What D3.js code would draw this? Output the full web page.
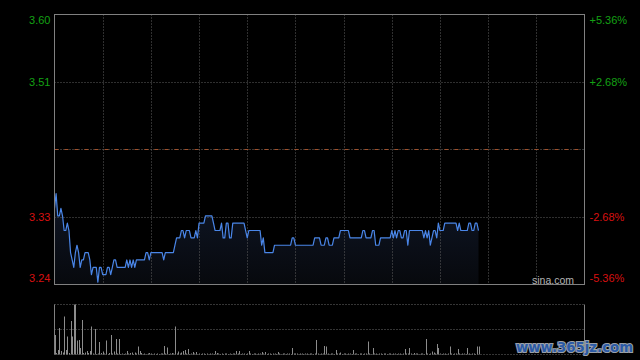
<!DOCTYPE html>
<html><head><meta charset="utf-8">
<script src="https://cdn.jsdelivr.net/npm/d3@7/dist/d3.min.js"></script>
<style>html,body{margin:0;padding:0;background:#000;}svg{display:block}</style>
</head><body>
<svg id="c" width="640" height="360"></svg>
<script>
// ---- data ----
const prevClose = 3.42;
const pctLevels = [0.0536, 0.0268, -0.0268, -0.0536];
const priceLabels = ["3.60", "3.51", "3.33", "3.24"];
const pctLabels = ["+5.36%", "+2.68%", "-2.68%", "-5.36%"];
const sessionMinutes = 330;
const gridStepMinutes = 30;
const prices = [
3.34,3.36,3.33,3.33,3.34,3.33,3.31,3.31,3.32,3.31,
3.28,3.27,3.26,3.28,3.29,3.28,3.26,3.27,3.27,3.28,
3.28,3.28,3.27,3.25,3.26,3.26,3.26,3.24,3.26,3.26,
3.25,3.25,3.25,3.26,3.26,3.25,3.26,3.27,3.27,3.26,
3.26,3.26,3.26,3.26,3.26,3.27,3.26,3.27,3.26,3.27,
3.26,3.27,3.27,3.27,3.27,3.27,3.27,3.28,3.28,3.27,
3.28,3.28,3.28,3.28,3.28,3.28,3.28,3.28,3.27,3.28,
3.28,3.28,3.28,3.28,3.28,3.29,3.30,3.30,3.30,3.31,
3.31,3.30,3.31,3.31,3.31,3.30,3.30,3.30,3.31,3.30,
3.32,3.32,3.32,3.32,3.33,3.33,3.33,3.33,3.33,3.32,
3.31,3.31,3.31,3.31,3.32,3.30,3.30,3.32,3.32,3.30,
3.30,3.32,3.32,3.32,3.32,3.32,3.32,3.32,3.32,3.31,
3.30,3.31,3.31,3.31,3.31,3.31,3.31,3.31,3.31,3.29,
3.30,3.28,3.28,3.28,3.28,3.28,3.28,3.29,3.29,3.29,
3.29,3.29,3.29,3.29,3.29,3.29,3.29,3.29,3.30,3.30,
3.29,3.29,3.29,3.29,3.29,3.29,3.29,3.29,3.29,3.29,
3.29,3.29,3.30,3.30,3.30,3.30,3.29,3.29,3.29,3.30,
3.30,3.29,3.29,3.29,3.30,3.30,3.30,3.30,3.31,3.31,
3.31,3.31,3.31,3.31,3.30,3.30,3.30,3.30,3.30,3.30,
3.30,3.30,3.31,3.31,3.30,3.30,3.30,3.30,3.31,3.31,
3.29,3.29,3.29,3.30,3.30,3.30,3.30,3.30,3.30,3.30,
3.31,3.30,3.31,3.30,3.31,3.31,3.30,3.30,3.31,3.31,
3.29,3.31,3.31,3.31,3.31,3.31,3.31,3.31,3.31,3.31,
3.30,3.31,3.30,3.31,3.29,3.30,3.31,3.31,3.30,3.32,
3.31,3.31,3.31,3.32,3.32,3.32,3.32,3.32,3.32,3.32,
3.32,3.31,3.32,3.31,3.31,3.31,3.31,3.31,3.32,3.32,
3.31,3.31,3.32,3.32,3.31
];
const volumes = [
39,3,9,53,7,4,76,9,36,3,
67,36,100,100,28,29,13,69,3,4,
7,3,7,56,2,51,1,2,25,3,
6,2,28,1,3,39,2,6,31,2,
31,1,2,1,2,7,2,3,4,1,
4,2,16,7,3,1,2,1,2,3,
2,1,2,1,2,1,2,2,17,2,
14,1,2,3,2,56,2,6,2,4,
7,9,2,11,1,2,5,2,5,1,
2,1,2,2,1,2,1,2,2,1,
7,3,2,1,2,1,2,2,1,2,
1,2,2,7,2,7,1,2,2,1,
2,7,2,1,2,2,1,2,2,5,
2,5,1,2,2,1,2,2,1,5,
2,1,2,2,1,2,2,1,13,2,
2,2,1,2,2,1,2,2,1,2,
2,1,2,29,2,1,2,2,17,16,
2,1,2,2,1,9,2,2,4,1,
2,2,1,2,2,1,9,2,2,1,
2,2,1,2,2,26,2,1,13,2,
2,1,2,2,1,2,2,1,2,2,
1,2,2,1,2,2,1,2,11,2,
2,13,2,1,3,2,2,1,2,2,
1,31,2,1,2,6,4,2,21,13,
2,1,2,2,1,2,16,2,1,2,
2,11,2,1,2,2,1,13,2,1,
2,2,1,16,16
];
const volumeMax = 100;

// ---- layout ----
const L = 54.5, R = 584.5, T = 14.5, B = 284.5;
const VT = 304.5, VB = 354.5;
const svg = d3.select("#c");
svg.append("rect").attr("width", 640).attr("height", 360).attr("fill", "#000");

const x = d3.scaleLinear().domain([0, sessionMinutes]).range([L, R]);
const y = d3.scaleLinear()
  .domain([prevClose * (1 + pctLevels[3]), prevClose * (1 + pctLevels[0])])
  .range([B, T]);
const yv = d3.scaleLinear().domain([0, volumeMax]).range([VB, VT]);

const snap = v => Math.floor(v) + 0.5;
const gridColor = "#5e5e5e";

// area fill (drawn under the grid)
const defs = svg.append("defs");
const grad = defs.append("linearGradient").attr("id", "ag").attr("x1", 0).attr("x2", 0).attr("y1", 0).attr("y2", 1);
grad.append("stop").attr("offset", "0%").attr("stop-color", "#0f1626");
grad.append("stop").attr("offset", "100%").attr("stop-color", "#07090d");
const area = d3.area().x((d, i) => x(i)).y0(B).y1(d => y(d));
svg.append("path").datum(prices).attr("d", area).attr("fill", "url(#ag)");

// vertical grid lines
const vTicks = d3.range(gridStepMinutes, sessionMinutes, gridStepMinutes);
svg.append("g").selectAll("line").data(vTicks).join("line")
  .attr("x1", d => Math.round(x(d)) + 0.5).attr("x2", d => Math.round(x(d)) + 0.5)
  .attr("y1", T).attr("y2", B)
  .attr("stroke", gridColor).attr("stroke-dasharray", "1,2");

// horizontal grid lines (inner)
const innerLevels = [pctLevels[1], pctLevels[2]];
svg.append("g").selectAll("line").data(innerLevels).join("line")
  .attr("x1", L).attr("x2", R)
  .attr("y1", d => snap(y(prevClose * (1 + d)))).attr("y2", d => snap(y(prevClose * (1 + d))))
  .attr("stroke", gridColor).attr("stroke-dasharray", "1,2");

// prev close line (dash-dot)
const yPc = snap(y(prevClose));
svg.append("line").attr("x1", L).attr("x2", R).attr("y1", yPc).attr("y2", yPc)
  .attr("stroke", "#6a6a6a").attr("stroke-dasharray", "1,2");
svg.append("line").attr("x1", L).attr("x2", R).attr("y1", yPc).attr("y2", yPc)
  .attr("stroke", "#a0522d").attr("stroke-dasharray", "4,6");

// price line
const line = d3.line().x((d, i) => x(i)).y(d => y(d));
svg.append("path").datum(prices).attr("d", line)
  .attr("fill", "none").attr("stroke", "#4a86e8").attr("stroke-width", 1.2)
  .attr("stroke-linejoin", "round");

// main border
svg.append("rect").attr("x", L).attr("y", T).attr("width", R - L).attr("height", B - T)
  .attr("fill", "none").attr("stroke", "#808080");

// price labels
const labelBase = [24, 86, 221, 282];
const labelColor = ["#14a014", "#14a014", "#d81010", "#d81010"];
svg.append("g").selectAll("text").data(priceLabels).join("text")
  .attr("x", 50.5).attr("y", (d, i) => labelBase[i])
  .attr("text-anchor", "end").attr("fill", (d, i) => labelColor[i])
  .attr("font-family", "Liberation Sans, Arial, sans-serif").attr("font-size", 11)
  .text(d => d);
svg.append("g").selectAll("text").data(pctLabels).join("text")
  .attr("x", 589.5).attr("y", (d, i) => labelBase[i])
  .attr("text-anchor", "start").attr("fill", (d, i) => labelColor[i])
  .attr("font-family", "Liberation Sans, Arial, sans-serif").attr("font-size", 11)
  .text(d => d);

// sina.com
svg.append("text").attr("x", 532).attr("y", 283.5)
  .attr("fill", "#b4b4b4").attr("font-family", "Liberation Sans, Arial, sans-serif")
  .attr("font-size", 10.5).text("sina.com");

// volume panel
[VT, (VT + VB) / 2, VB].forEach(v => {
  svg.append("line").attr("x1", L).attr("x2", R).attr("y1", snap(v)).attr("y2", snap(v))
    .attr("stroke", "#6a6a6a").attr("stroke-dasharray", "1,2");
});
svg.append("g").selectAll("line").data(volumes).join("line")
  .attr("x1", (d, i) => Math.round(x(i)) + 0.5).attr("x2", (d, i) => Math.round(x(i)) + 0.5)
  .attr("y1", VB).attr("y2", d => yv(d))
  .attr("stroke", "#8c8c8c").attr("stroke-width", 1);
[L, R].forEach(xx => {
  svg.append("line").attr("x1", xx).attr("x2", xx).attr("y1", VT).attr("y2", VB).attr("stroke", "#808080");
});

// watermark
svg.append("text").attr("x", 516).attr("y", 352)
  .attr("font-family", "DejaVu Sans, sans-serif").attr("font-weight", "bold")
  .attr("font-size", 14).attr("textLength", 117).attr("lengthAdjust", "spacingAndGlyphs")
  .attr("fill", "#2b5aa6").attr("stroke", "#9aa0a8").attr("stroke-width", 2.2)
  .attr("paint-order", "stroke").text("www.365jz.com");
</script>
</body></html>
